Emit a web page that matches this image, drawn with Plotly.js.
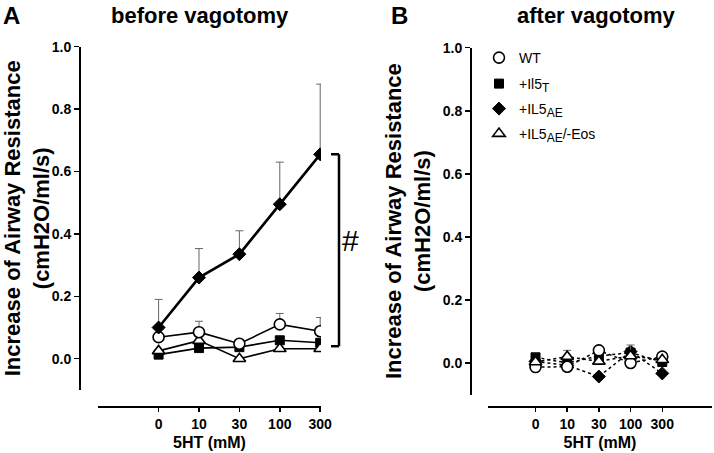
<!DOCTYPE html>
<html><head><meta charset="utf-8">
<script src="https://cdn.plot.ly/plotly-3.0.1.min.js"></script>
<style>html,body{margin:0;padding:0;background:#fff}</style>
</head><body>
<div id="chart" style="width:714px;height:453px"></div>
<script>
// ---- data ----
const categories = ['0', '10', '30', '100', '300'];
const seriesNames = ['WT', '+Il5<sub><span style="font-size:12px">T</span></sub>',
  '+IL5<sub><span style="font-size:12px">AE</span></sub>',
  '+IL5<sub><span style="font-size:12px">AE</span></sub>/-Eos'];
// before vagotomy (panel A)
const beforeWT    = [0.069, 0.085, 0.048, 0.110, 0.088];
const beforeWTerr = [0.000, 0.035, 0.000, 0.035, 0.044];
const beforeIl5T    = [0.013, 0.034, 0.037, 0.059, 0.051];
const beforeIl5Terr = [0, 0, 0, 0, 0];
const beforeIL5AE    = [0.100, 0.260, 0.335, 0.495, 0.655];
const beforeIL5AEerr = [0.090, 0.093, 0.075, 0.135, 0.225];
const beforeEos    = [0.025, 0.058, 0.000, 0.032, 0.032];
const beforeEoserr = [0, 0, 0, 0, 0];
// after vagotomy (panel B)
const afterWT    = [-0.013, -0.012, 0.040, 0.000, 0.020];
const afterWTerr = [0, 0, 0, 0, 0.005];
const afterIl5T    = [0.018, 0.000, 0.022, 0.033, 0.003];
const afterIl5Terr = [0, 0, 0, 0, 0];
const afterIL5AE    = [0.005, -0.008, -0.043, 0.036, -0.033];
const afterIL5AEerr = [0, 0, 0, 0, 0];
const afterEos    = [0.003, 0.020, 0.005, 0.022, 0.010];
const afterEoserr = [0, 0.020, 0, 0.035, 0];
const bracketTop = 0.655, bracketBottom = 0.040;

// ---- styles ----
const FF = 'Liberation Sans, Arial, sans-serif';
const markerStyles = [
  {symbol: 'circle', size: 11, color: '#fff', line: {color: '#000', width: 1.6}},
  {symbol: 'square', size: 9, color: '#000', line: {color: '#000', width: 1}},
  {symbol: 'diamond', size: 10, color: '#000', line: {color: '#000', width: 1}},
  {symbol: 'triangle-up', size: 11, color: '#fff', line: {color: '#000', width: 1.6}}
];
const lineWidthsA = [1.6, 1.6, 2.6, 1.6];

function mk(name, y, err, idx, axisX, axisY, dash, lw) {
  return {
    type: 'scatter', mode: 'lines+markers', name: name, showlegend: false,
    x: categories, y: y, xaxis: axisX, yaxis: axisY,
    line: {color: '#000', width: lw, dash: dash},
    marker: markerStyles[idx],
    error_y: {type: 'data', symmetric: false, array: err, arrayminus: err.map(() => 0),
              color: '#666', thickness: 1, width: 4}
  };
}

const dataA = [
  [beforeIl5T, beforeIl5Terr, 1], [beforeEos, beforeEoserr, 3],
  [beforeWT, beforeWTerr, 0], [beforeIL5AE, beforeIL5AEerr, 2]
];
const dataB = [
  [afterIl5T, afterIl5Terr, 1], [afterIL5AE, afterIL5AEerr, 2],
  [afterWT, afterWTerr, 0], [afterEos, afterEoserr, 3]
];
const traces = [];
dataA.forEach(d => traces.push(mk(seriesNames[d[2]], d[0], d[1], d[2], 'x', 'y', 'solid', lineWidthsA[d[2]])));
dataB.forEach(d => traces.push(mk(seriesNames[d[2]], d[0], d[1], d[2], 'x2', 'y2', 'dot', 1.5)));
// legend entries, one legend per row
const legendIds = ['legend', 'legend2', 'legend3', 'legend4'];
seriesNames.forEach((n, i) => traces.push({
  type: 'scatter', mode: 'markers', name: n, x: [null], y: [null], xaxis: 'x2', yaxis: 'y2',
  marker: markerStyles[i], showlegend: true, legend: legendIds[i]
}));

const W = 714, H = 453;
const px = v => v / W, py = v => 1 - v / H;
const tickFont = {family: FF, size: 14, color: '#000', weight: 'bold'};
const titleFont = {family: FF, size: 22, color: '#000', weight: 'bold'};
const axisTitleFont = {family: FF, size: 16, color: '#000', weight: 'bold'};

function xax(domain, range, pos) {
  return {type: 'category', domain: domain, range: range, anchor: 'free', position: pos,
    showline: true, linecolor: '#000', linewidth: 2, ticks: 'outside', ticklen: 4, tickwidth: 1.5,
    tickcolor: '#000', showgrid: false, zeroline: false, tickfont: tickFont,
    title: {text: '5HT (mM)', font: axisTitleFont, standoff: 5}};
}
function yax(domain, pos) {
  return {domain: domain, range: [-0.1, 1.0], anchor: 'free', position: pos,
    showline: true, linecolor: '#000', linewidth: 2, ticks: 'outside', ticklen: 5, tickwidth: 1.5,
    tickcolor: '#000', showgrid: false, zeroline: false, tickvals: [0, 0.2, 0.4, 0.6, 0.8, 1.0],
    tickformat: '.1f', tickfont: tickFont,
    title: {text: 'Increase of Airway Resistance<br>(cmH2O/ml/s)', font: titleFont, standoff: 5}};
}
function leg(rowY) {
  return {x: px(479), y: py(rowY), xanchor: 'left', yanchor: 'middle', bgcolor: 'rgba(0,0,0,0)',
    font: {family: FF, size: 14, color: '#000'}, itemwidth: 30};
}

const layout = {
  width: W, height: H, margin: {l: 0, r: 0, t: 0, b: 0},
  paper_bgcolor: '#fff', plot_bgcolor: 'rgba(0,0,0,0)',
  font: {family: FF, color: '#000'},
  showlegend: true,
  xaxis: xax([px(98), px(321)], [-1.5, 4.02], py(407)),
  yaxis: yax([py(389.9), py(46.7)], px(80)),
  xaxis2: xax([px(488), px(712)], [-1.5, 5.57], py(407)),
  yaxis2: yax([py(394.5), py(47.7)], px(471)),
  legend: leg(58), legend2: leg(84), legend3: leg(109), legend4: leg(134),
  shapes: [
    {type: 'line', xref: 'paper', yref: 'y', x0: px(339), x1: px(339), y0: bracketBottom, y1: bracketTop, line: {color: '#000', width: 2.5}},
    {type: 'line', xref: 'paper', yref: 'y', x0: px(331), x1: px(339), y0: bracketTop, y1: bracketTop, line: {color: '#000', width: 2.5}},
    {type: 'line', xref: 'paper', yref: 'y', x0: px(331), x1: px(339), y0: bracketBottom, y1: bracketBottom, line: {color: '#000', width: 2.5}}
  ],
  annotations: [
    {text: '#', xref: 'paper', yref: 'y', x: px(350), y: (bracketTop + bracketBottom) / 2 + 0.03, xanchor: 'center', yanchor: 'middle', showarrow: false,
     font: {family: FF, size: 30, color: '#000'}},
    {text: 'A', xref: 'paper', yref: 'paper', x: px(1), y: py(16), xanchor: 'left', yanchor: 'middle', showarrow: false,
     font: {family: FF, size: 24, color: '#000', weight: 'bold'}},
    {text: 'before vagotomy', xref: 'paper', yref: 'paper', x: px(200), y: py(16), xanchor: 'center', yanchor: 'middle', showarrow: false,
     font: {family: FF, size: 22, color: '#000', weight: 'bold'}},
    {text: 'B', xref: 'paper', yref: 'paper', x: px(389), y: py(16), xanchor: 'left', yanchor: 'middle', showarrow: false,
     font: {family: FF, size: 24, color: '#000', weight: 'bold'}},
    {text: 'after vagotomy', xref: 'paper', yref: 'paper', x: px(596), y: py(16), xanchor: 'center', yanchor: 'middle', showarrow: false,
     font: {family: FF, size: 22, color: '#000', weight: 'bold'}}
  ]
};
Plotly.newPlot('chart', traces, layout, {staticPlot: true, displayModeBar: false});
</script>
</body></html>
